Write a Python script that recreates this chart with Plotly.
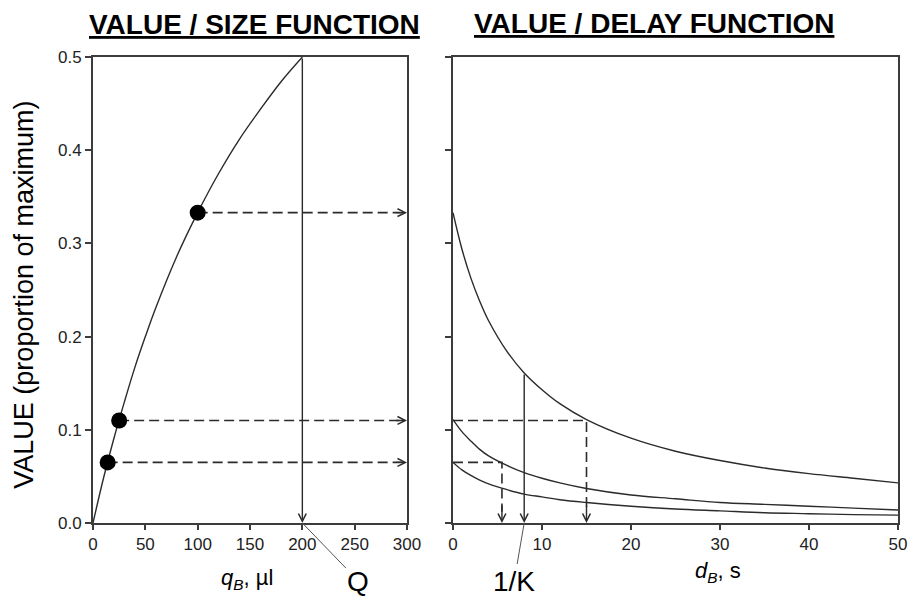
import plotly.graph_objects as go

INK = "#2b2b2b"
AXIS = "#3c3c3c"
FONT = "Liberation Sans, Arial, sans-serif"

# value / size function (left panel)
size_q = [0, 10, 20, 30, 40, 50, 60, 80, 100, 120, 140, 160, 180, 200]
size_value = [0, 0.048, 0.091, 0.130, 0.167, 0.200, 0.231, 0.286, 0.333,
              0.375, 0.412, 0.444, 0.474, 0.5]
point_q = [14, 25, 100]
point_value = [0.065, 0.11, 0.333]
q_cap = 200
q_max = 300

# value / delay function (right panel)
delay_d = [0, 1, 2, 3, 4, 6, 8, 10, 12, 15, 20, 25, 30, 35, 40, 45, 50]
delay_high = [0.333, 0.294, 0.263, 0.238, 0.217, 0.185, 0.161, 0.143, 0.128,
              0.111, 0.091, 0.077, 0.067, 0.059, 0.053, 0.048, 0.043]
delay_mid = [0.111, 0.098, 0.088, 0.079, 0.072, 0.062, 0.054, 0.048, 0.043,
             0.037, 0.030, 0.026, 0.022, 0.020, 0.018, 0.016, 0.014]
delay_low = [0.065, 0.057, 0.051, 0.046, 0.042, 0.036, 0.031, 0.028, 0.025,
             0.022, 0.018, 0.015, 0.013, 0.011, 0.010, 0.009, 0.0085]
equal_delay = [5.5, 15]        # where mid / high curve drop to low / mid value
equal_value = [0.065, 0.11]
inv_k = 8
inv_k_value = 0.161

fig = go.Figure()


def arrow(x, y, ax, ay, xref, yref):
    fig.add_annotation(
        x=x, y=y, ax=ax, ay=ay, xref=xref, yref=yref, axref=xref, ayref=yref,
        text="", showarrow=True, arrowhead=5, arrowsize=1.1, arrowwidth=1.4,
        arrowcolor=INK, standoff=0,
    )


def dashed(xs, ys, xa, ya):
    fig.add_trace(go.Scatter(
        x=xs, y=ys, xaxis=xa, yaxis=ya, mode="lines",
        line={"color": INK, "width": 1.6, "dash": "10px,5px"},
        hoverinfo="skip", cliponaxis=False,
    ))


def label(x, y, text, size, **kw):
    fig.add_annotation(
        x=x, y=y, xref="paper", yref="paper", showarrow=False, text=text,
        xanchor="center", yanchor="middle",
        font={"size": size, "color": "black"}, **kw,
    )


# left panel
fig.add_trace(go.Scatter(
    x=size_q, y=size_value, mode="lines", line_shape="spline",
    line={"color": INK, "width": 1.4}, xaxis="x", yaxis="y", cliponaxis=False,
))
for q, v in zip(point_q, point_value):
    dashed([q, q_max - 2], [v, v], "x", "y")
    arrow(q_max, v, q_max - 12, v, "x", "y")
fig.add_trace(go.Scatter(
    x=point_q, y=point_value, mode="markers", xaxis="x", yaxis="y",
    marker={"size": 16, "color": "black"}, cliponaxis=False,
))
arrow(q_cap, 0, q_cap, 0.5, "x", "y")

# right panel
for curve in (delay_high, delay_mid, delay_low):
    fig.add_trace(go.Scatter(
        x=delay_d, y=curve, mode="lines", line_shape="spline",
        line={"color": INK, "width": 1.4}, xaxis="x2", yaxis="y2",
        cliponaxis=False,
    ))
for d, v in zip(equal_delay, equal_value):
    dashed([0, d, d], [v, v, 0.012], "x2", "y2")
    arrow(d, 0, d, 0.02, "x2", "y2")
arrow(inv_k, 0, inv_k, inv_k_value, "x2", "y2")

# labels with leader lines
fig.add_annotation(
    x=q_cap, y=0, xref="x", yref="y", text="Q", showarrow=True, arrowhead=0,
    arrowwidth=1, arrowcolor="#555", ax=56, ay=58,
    font={"size": 28, "color": "black"},
)
fig.add_annotation(
    x=inv_k, y=0, xref="x2", yref="y2", text="1/K", showarrow=True,
    arrowhead=0, arrowwidth=1, arrowcolor="#555", ax=-10, ay=58,
    font={"size": 28, "color": "black"},
)

# titles
label(0.2012, 1.07, "<b><u>VALUE / SIZE FUNCTION</u></b>", 28)
label(0.697, 1.072, "<b><u>VALUE / DELAY FUNCTION</u></b>", 28)
label(-0.0857, 0.49, "VALUE (proportion of maximum)", 27, textangle=-90)
label(0.1913, -0.12, "<i>q<sub>B</sub></i>, µl", 22)
label(0.7764, -0.105, "<i>d<sub>B</sub></i>, s", 22)

axis_style = {
    "showline": True, "linecolor": AXIS, "linewidth": 1.8, "mirror": True,
    "showgrid": False, "zeroline": False, "ticks": "outside", "ticklen": 5,
    "tickwidth": 1.5, "tickcolor": AXIS, "ticklabeloverflow": "allow",
    "tickfont": {"size": 17, "color": "#222"},
}

# page body has an 8px margin all round, so the figure is shrunk by 16px
fig.update_layout(
    width=901,
    height=589,
    showlegend=False,
    template="none",
    paper_bgcolor="white",
    plot_bgcolor="white",
    font={"family": FONT, "color": "black"},
    margin={"l": 85, "r": 11, "t": 49, "b": 74},
    xaxis={**axis_style, "domain": [0, 0.3901], "range": [0, q_max],
           "dtick": 50},
    yaxis={**axis_style, "range": [0, 0.5], "dtick": 0.1,
           "tickformat": ".1f", "ticklen": 6},
    xaxis2={**axis_style, "domain": [0.4472, 1], "range": [0, 50],
            "dtick": 10, "anchor": "y2"},
    yaxis2={**axis_style, "range": [0, 0.5], "dtick": 0.1,
            "showticklabels": False, "anchor": "x2", "ticklen": 6},
)

fig.write_html("out.html")
